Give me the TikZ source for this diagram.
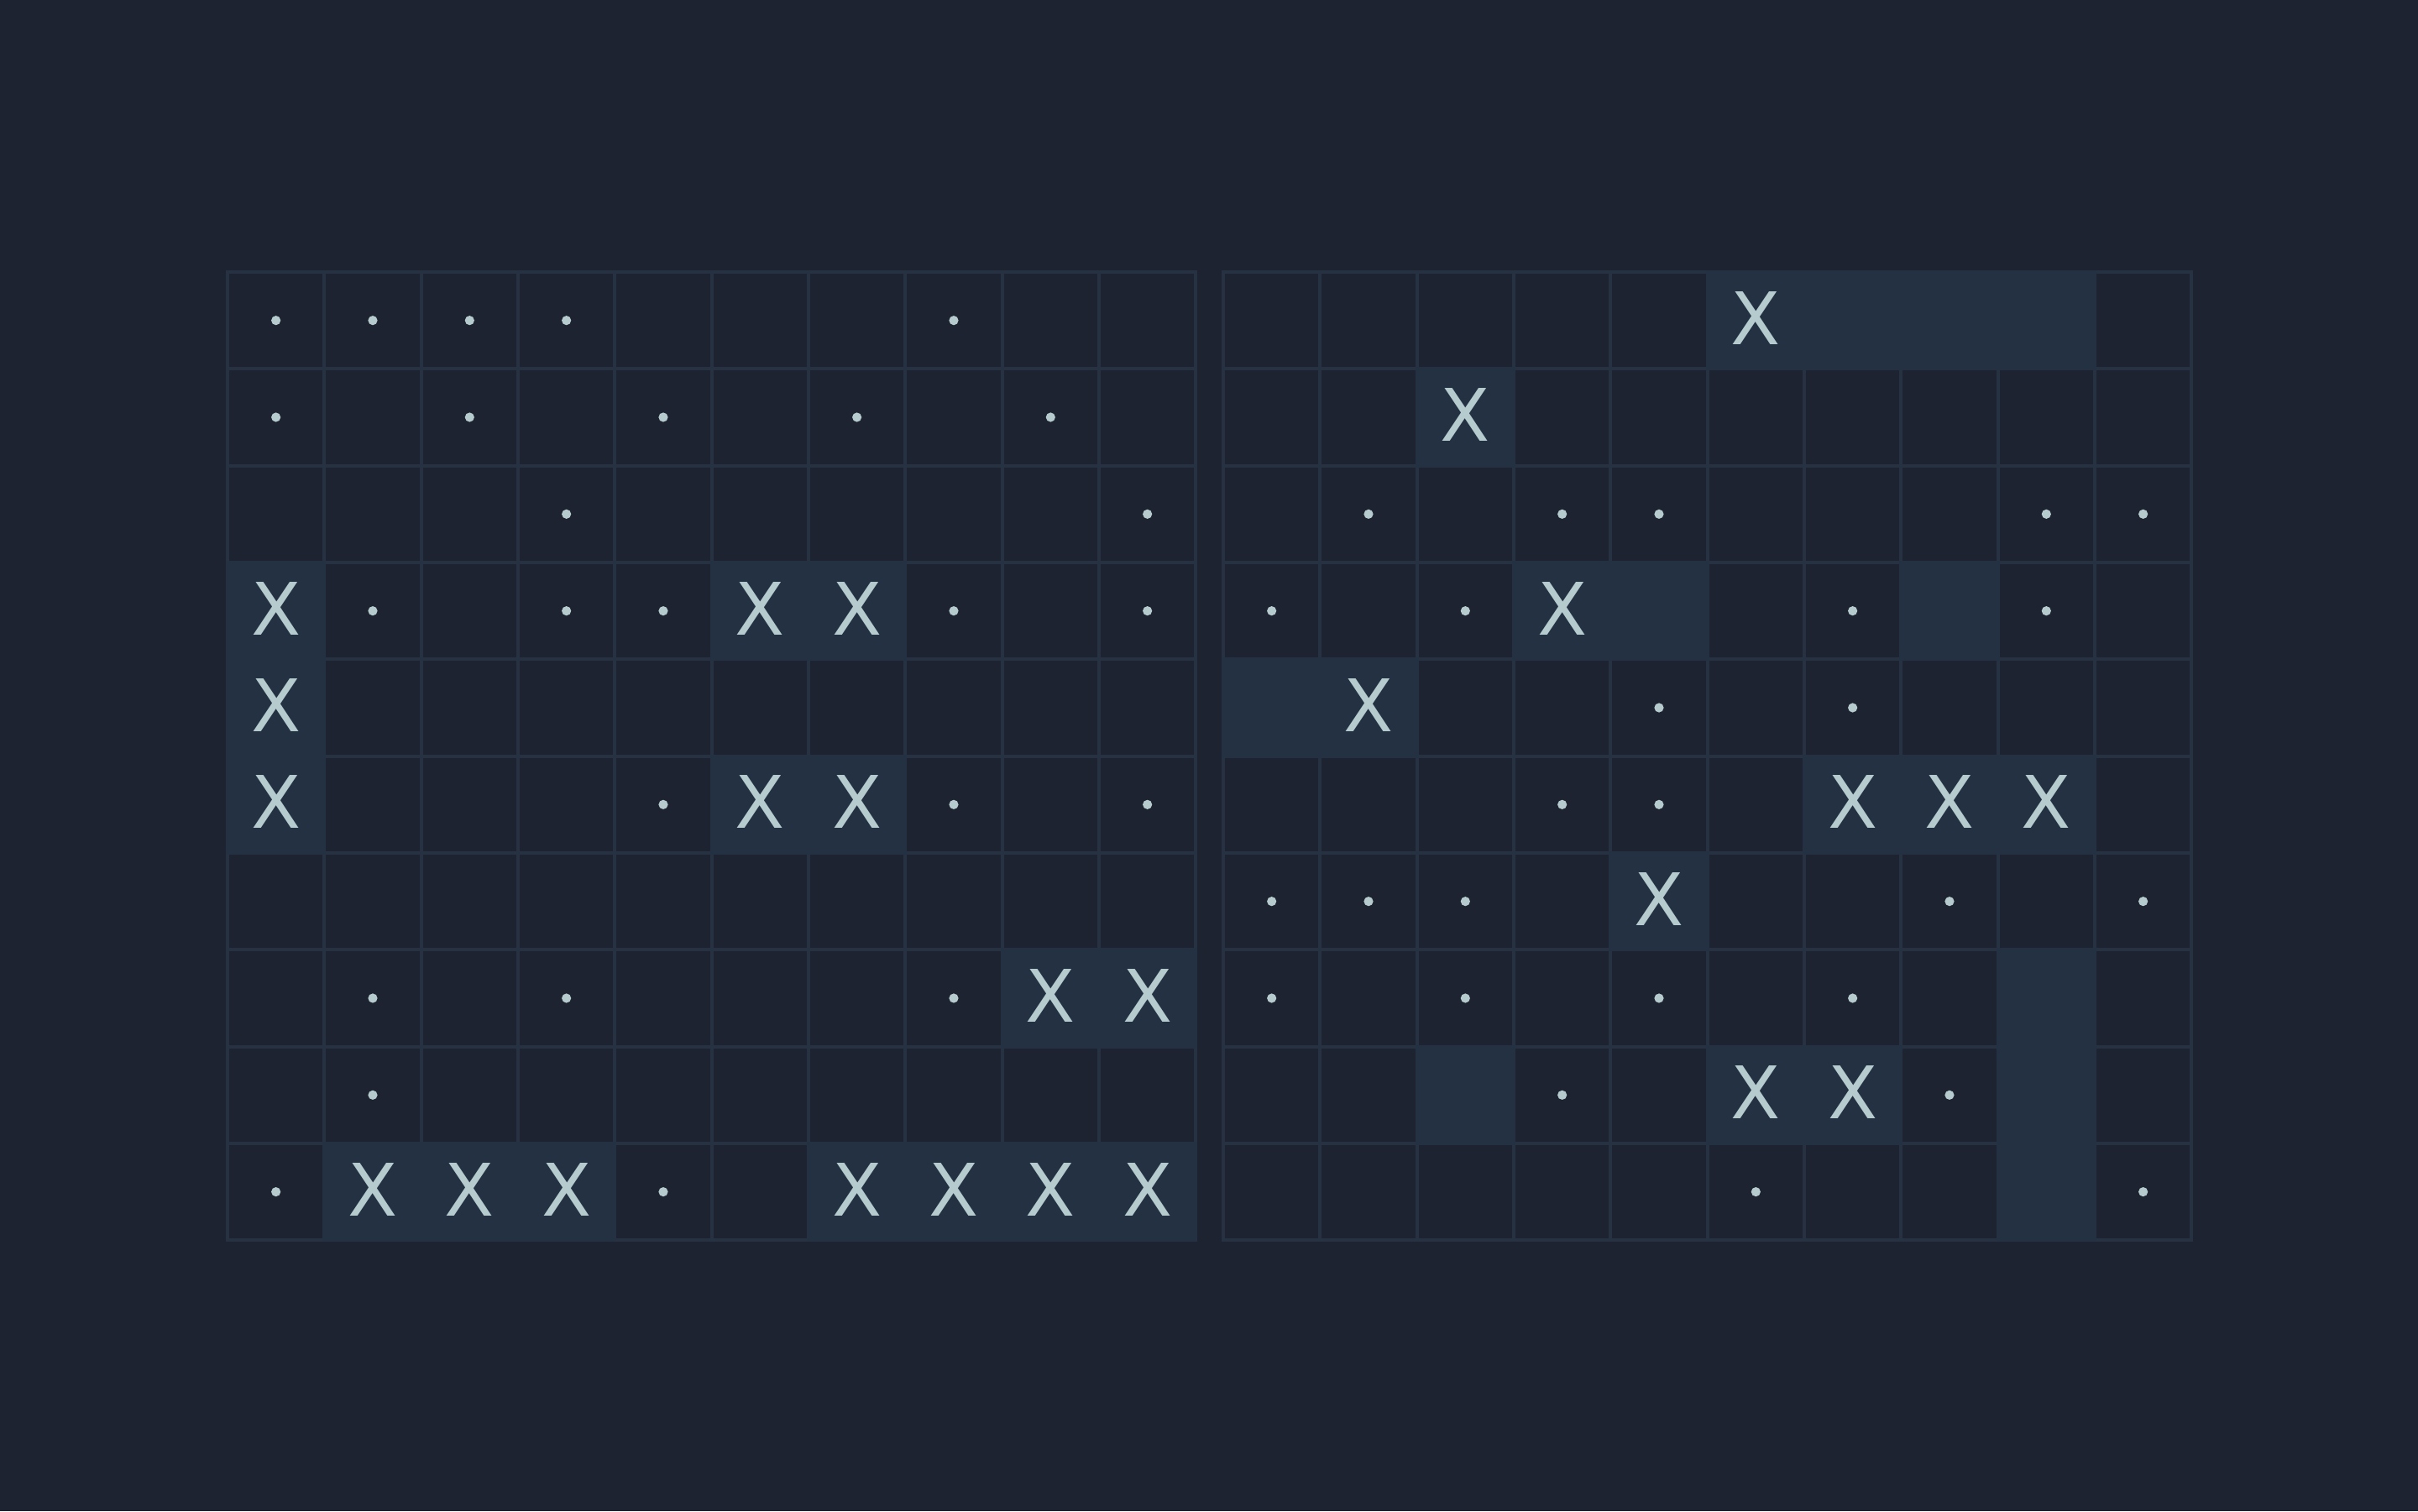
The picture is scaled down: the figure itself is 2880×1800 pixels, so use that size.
\documentclass[tikz,border=0pt]{standalone}
\usepackage{fontspec}
\setmainfont{DejaVu Sans}
\definecolor{bgc}{HTML}{1D2330}
\definecolor{linec}{HTML}{263242}
\definecolor{hic}{HTML}{243142}
\definecolor{txtc}{HTML}{B5CBCE}
\tikzset{
  gridline/.style={draw=linec, line width=1pt, line cap=rect},
  hicell/.style={fill=hic, draw=none},
  dotmark/.style={circle, fill=txtc, draw=none, inner sep=0pt, minimum size=2.8pt},
  xmark/.style={text=txtc, inner sep=0pt, font=\fontsize{21.6}{24}\selectfont, yshift=0.75pt},
}
\begin{document}
\begin{tikzpicture}[x=0.25pt,y=-0.25pt]
\pgfmathsetmacro{\p}{115.33}
\def\Y{324}
\fill[bgc] (0,0) rectangle (2880,1800);
\useasboundingbox (0,0) rectangle (2880,1800);
% grids
\foreach \X/\G in {271/L,1457/R}{
  \foreach \k in {0,...,10}{
    \draw[gridline] ({\X+\p*\k},\Y) -- ({\X+\p*\k},{\Y+\p*10});
    \draw[gridline] (\X,{\Y+\p*\k}) -- ({\X+\p*10},{\Y+\p*\k});
  }
}
% highlights (c1/r1/c2/r2)
\foreach \ca/\ra/\cb/\rb in {0/3/0/5,5/3/6/3,5/5/6/5,8/7/9/7,1/9/3/9,6/9/9/9}{
  \fill[hicell] ({271+\p*\ca-2},{\Y+\p*\ra-2}) rectangle ({271+\p*(\cb+1)+2},{\Y+\p*(\rb+1)+2});
}
\foreach \ca/\ra/\cb/\rb in {5/0/8/0,2/1/2/1,3/3/4/3,7/3/7/3,0/4/1/4,6/5/8/5,4/6/4/6,8/7/8/9,2/8/2/8,5/8/6/8}{
  \fill[hicell] ({1457+\p*\ca-2},{\Y+\p*\ra-2}) rectangle ({1457+\p*(\cb+1)+2},{\Y+\p*(\rb+1)+2});
}
% left grid dots
\foreach \c/\r in {0/0,1/0,2/0,3/0,7/0, 0/1,2/1,4/1,6/1,8/1, 3/2,9/2, 1/3,3/3,4/3,7/3,9/3, 4/5,7/5,9/5, 1/7,3/7,7/7, 1/8, 0/9,4/9}{
  \node[dotmark] (L-d-\r-\c) at ({271+\p*(\c+0.5)},{\Y+\p*(\r+0.5)}) {};
}
% left grid X
\foreach \c/\r in {0/3,5/3,6/3, 0/4, 0/5,5/5,6/5, 8/7,9/7, 1/9,2/9,3/9,6/9,7/9,8/9,9/9}{
  \node[xmark] (L-x-\r-\c) at ({271+\p*(\c+0.5)},{\Y+\p*(\r+0.5)}) {X};
}
% right grid dots
\foreach \c/\r in {1/2,3/2,4/2,8/2,9/2, 0/3,2/3,6/3,8/3, 4/4,6/4, 3/5,4/5, 0/6,1/6,2/6,7/6,9/6, 0/7,2/7,4/7,6/7, 3/8,7/8, 5/9,9/9}{
  \node[dotmark] (R-d-\r-\c) at ({1457+\p*(\c+0.5)},{\Y+\p*(\r+0.5)}) {};
}
% right grid X
\foreach \c/\r in {5/0, 2/1, 3/3, 1/4, 6/5,7/5,8/5, 4/6, 5/8,6/8}{
  \node[xmark] (R-x-\r-\c) at ({1457+\p*(\c+0.5)},{\Y+\p*(\r+0.5)}) {X};
}
\end{tikzpicture}
\end{document}
